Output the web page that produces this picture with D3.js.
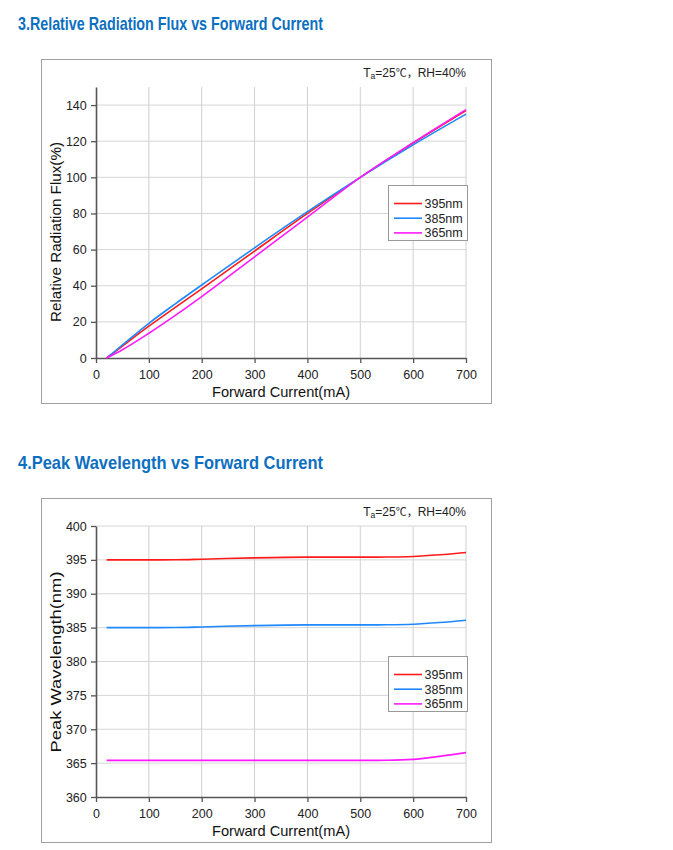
<!DOCTYPE html>
<html><head><meta charset="utf-8">
<script src="https://cdn.jsdelivr.net/npm/d3@7"></script>
<style>
html,body{margin:0;padding:0;background:#fff;}
svg{display:block;font-family:"Liberation Sans",Arial,sans-serif;}
</style></head>
<body><svg id="chart" width="673" height="850"></svg>
<script>
// ---------- data ----------
const seriesNames = ["395nm", "385nm", "365nm"];
const seriesColors = ["#ff1a1a", "#1e88ff", "#ff1aff"];

const fluxCurrent = [20, 50, 100, 150, 200, 300, 400, 500, 600, 700];
const flux395 = [0, 6.6, 17.6, 28, 38.3, 59.2, 80, 100, 119, 137];
const flux385 = [0, 7.2, 19.2, 30, 40.4, 61, 81, 100, 118, 135];
const flux365 = [0, 4.6, 13.7, 23.6, 34, 56, 78, 100, 119.2, 137.5];
const fluxTicksY = [0, 20, 40, 60, 80, 100, 120, 140];

const wlCurrent = [20, 100, 150, 200, 300, 400, 500, 550, 600, 650, 700];
const wl395 = [395.0, 395.0, 395.02, 395.1, 395.3, 395.4, 395.4, 395.42, 395.5, 395.75, 396.1];
const wl385 = [385.0, 385.0, 385.02, 385.1, 385.3, 385.4, 385.4, 385.42, 385.5, 385.75, 386.1];
const wl365 = [365.4, 365.4, 365.4, 365.4, 365.4, 365.4, 365.4, 365.42, 365.55, 366.0, 366.55];
const wlTicksY = [360, 365, 370, 375, 380, 385, 390, 395, 400];

const xTicks = [0, 100, 200, 300, 400, 500, 600, 700];

const charts = [
  {title: "3.Relative Radiation Flux vs Forward Current", yLabel: "Relative Radiation Flux(%)",
   top: 0, xs: fluxCurrent, ys: [flux395, flux385, flux365], yDomain: [0, 150], yTicks: fluxTicksY,
   legendY: 185, yLabelCenter: 232, yLabelLen: 180},
  {title: "4.Peak Wavelength vs Forward Current", yLabel: "Peak Wavelength(nm)",
   top: 439, xs: wlCurrent, ys: [wl395, wl385, wl365], yDomain: [360, 400], yTicks: wlTicksY,
   legendY: 217, yLabelCenter: 223, yLabelLen: 181}
];

const svg = d3.select("#chart");

charts.forEach((c, ci) => {
  const g = svg.append("g").attr("transform", `translate(0,${c.top})`);
  // title
  g.append("text").attr("x", 18).attr("y", 30)
    .attr("font-size", 18.5).attr("font-weight", "bold").attr("fill", "#0d6fc0")
    .attr("textLength", 305).attr("lengthAdjust", "spacingAndGlyphs")
    .text(c.title);
  // frame
  g.append("rect").attr("x", 41.5).attr("y", 59.5).attr("width", 450).attr("height", 344)
    .attr("fill", "#fff").attr("stroke", "#a0a0a0").attr("stroke-width", 1);

  const plotTop = 87, plotBottom = 358, left = 96, right = 466;
  const x = d3.scaleLinear().domain([0, 700]).range([left, right]);
  const y = d3.scaleLinear().domain(c.yDomain).range([plotBottom, plotTop]);

  // grid
  const grid = g.append("g");
  grid.selectAll("line.v").data(xTicks.slice(1)).join("line")
    .attr("x1", d => x(d)).attr("x2", d => x(d)).attr("y1", plotTop).attr("y2", plotBottom)
    .attr("stroke", "#cfcfcf").attr("stroke-width", 1);
  grid.selectAll("line.h").data(c.yTicks.slice(1)).join("line")
    .attr("x1", left).attr("x2", right).attr("y1", d => y(d)).attr("y2", d => y(d))
    .attr("stroke", "#d6d6d6").attr("stroke-width", 1);

  // axes
  const xAxis = g.append("g").attr("transform", `translate(0,${plotBottom})`)
    .call(d3.axisBottom(x).tickValues(xTicks).tickSize(5).tickSizeOuter(0));
  const yAxis = g.append("g").attr("transform", `translate(${left},0)`)
    .call(d3.axisLeft(y).tickValues(c.yTicks).tickSize(5).tickSizeOuter(0));
  [xAxis, yAxis].forEach(a => {
    a.attr("font-family", "'Liberation Sans',Arial,sans-serif").attr("font-size", 12.5);
    a.select(".domain").attr("stroke", "#555").attr("stroke-width", 1.6);
    a.selectAll(".tick line").attr("stroke", "#555").attr("stroke-width", 1.3);
    a.selectAll(".tick text").attr("font-size", 12.5).attr("fill", "#222");
  });
  xAxis.selectAll(".tick text").attr("dy", "1.05em");
  yAxis.selectAll(".tick text").attr("dx", "-0.1em");

  // axis labels
  g.append("text").attr("x", (left + right) / 2).attr("y", 397).attr("text-anchor", "middle")
    .attr("font-size", 14.5).attr("fill", "#111")
    .attr("textLength", 138).attr("lengthAdjust", "spacingAndGlyphs").text("Forward Current(mA)");
  g.append("text").attr("transform", `translate(61,${c.yLabelCenter}) rotate(-90)`)
    .attr("text-anchor", "middle").attr("font-size", 15).attr("fill", "#111")
    .attr("textLength", c.yLabelLen).attr("lengthAdjust", "spacingAndGlyphs").text(c.yLabel);

  // condition label
  const cond = g.append("text").attr("x", 466).attr("y", 77).attr("text-anchor", "end")
    .attr("font-size", 12).attr("fill", "#222");
  cond.append("tspan").text("T");
  cond.append("tspan").attr("font-size", 8.5).attr("dy", 2).text("a");
  cond.append("tspan").attr("dy", -2).text("=25");
  cond.append("tspan").attr("font-family", "'Noto Sans CJK SC'").attr("font-size", 11).text("℃，");
  cond.append("tspan").text("RH=40%");

  // lines
  const line = d3.line().x(d => x(d[0])).y(d => y(d[1])).curve(d3.curveMonotoneX);
  c.ys.forEach((vals, i) => {
    g.append("path").datum(c.xs.map((xv, k) => [xv, vals[k]]))
      .attr("d", line).attr("fill", "none").attr("stroke", seriesColors[i]).attr("stroke-width", 1.6);
  });

  // legend
  const lg = g.append("g").attr("transform", `translate(388,${c.legendY})`);
  lg.append("rect").attr("x", 0.5).attr("y", 0.5).attr("width", 79).attr("height", 55)
    .attr("fill", "#fff").attr("stroke", "#999");
  seriesNames.forEach((n, i) => {
    const yy = 18.5 + i * 14.7;
    lg.append("line").attr("x1", 6).attr("x2", 34).attr("y1", yy).attr("y2", yy)
      .attr("stroke", seriesColors[i]).attr("stroke-width", 1.6);
    lg.append("text").attr("x", 36.5).attr("y", yy + 4.5).attr("font-size", 12.5).attr("fill", "#222").text(n);
  });
});
</script></body></html>
